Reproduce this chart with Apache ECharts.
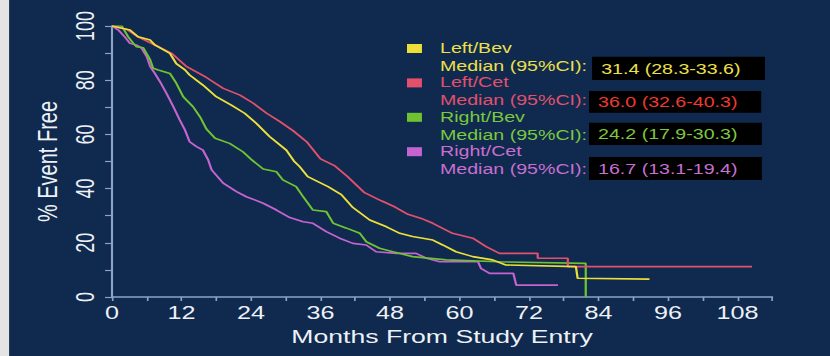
<!DOCTYPE html>
<html>
<head>
<meta charset="utf-8">
<script src="https://cdn.jsdelivr.net/npm/echarts@6/dist/echarts.min.js"></script>
<style>
  html, body { margin: 0; padding: 0; overflow: hidden; background: #0f2a4e; }
  /* the source slide is stretched sideways, so the chart is drawn narrow and widened */
  #chart { width: 592.86px; height: 356px; transform-origin: 0 0; transform: scaleX(1.4); }
</style>
</head>
<body>
<div id="chart"></div>
<script>
// Kaplan-Meier curves, [months, % event free]
var leftBev = [[0,100],[2.5,98.8],[3.1,98.5],[4.5,96],[6.6,94.8],[7.4,93],[10,89.9],[11.1,86.1],[12.6,83.8],[13.4,81.9],[15.7,78.2],[18,73.9],[20.6,70.8],[22.9,67.8],[24.9,64.1],[27.2,59.2],[30.1,54.2],[31.4,50.2],[32.4,48.1],[33.8,44.4],[37.3,40.7],[39.6,37.8],[41.6,33],[44.5,28.4],[47.4,25.9],[49.7,23.5],[51.9,22.3],[55.4,21],[57.1,19.2],[59.4,16.7],[62.3,14.9],[65.7,13.7],[68,11.8],[80.1,11.2],[80.4,6.9],[92.8,6.6]];
var leftCet = [[0,100],[2.5,98.8],[4.5,96],[7.4,93],[10.3,89.9],[12.9,85],[16.3,81],[19.2,77],[22.1,74.5],[24.4,71.5],[26.7,67.8],[29,64.7],[31.3,61.3],[33.6,57.3],[36,51],[38.4,48.5],[40.7,44.4],[43.6,38.5],[46.5,35.5],[48.8,33.3],[51.1,30.5],[53.4,29],[55.4,27.2],[58.8,23.5],[62.3,21.7],[64.6,18.6],[66.9,16.1],[73.5,16.1],[73.5,14.3],[78.7,14.3],[78.7,11.2],[110.5,11.2]];
var rightBev = [[0,100],[1.7,100],[2.8,96],[3.7,93.6],[4.2,92.4],[5.4,92],[6.6,87.5],[7.1,84.4],[8,83.8],[10,82.5],[11.1,78.9],[12.3,73.9],[14,70.2],[15.2,66.5],[16.3,62],[17.8,58.6],[20.3,56.7],[22.6,53.6],[24.2,50.5],[26.1,47.2],[28.4,46.2],[29.5,43.2],[31.8,40.7],[33,37],[34.7,32.1],[37,31.5],[38.2,27.2],[40.5,25.4],[42.8,23.5],[43.9,20.4],[46.2,18],[48.5,16.7],[51.9,14.9],[57.7,13.7],[66.9,13],[81.8,12.4],[81.8,0]];
var rightCet = [[0,100],[1.1,98.5],[2.2,96],[3.1,93.6],[4.2,93],[5.1,91.8],[6,88.7],[6.6,85],[7.4,82.5],[8.3,79.4],[9.4,75.2],[10.6,70.2],[11.7,65.3],[12.6,61.6],[13.4,57.3],[14.6,55.5],[15.7,54.2],[16.6,50.6],[17.2,46.9],[19.2,42],[21.5,38.9],[23.2,37],[26.1,34.6],[28.4,32.1],[30.7,29.3],[33,27.8],[34.7,27.2],[37,24.1],[39.3,21.7],[41.6,19.8],[43.9,19.2],[45.6,16.7],[49.1,16.1],[52.5,16.1],[54.3,14.3],[56.6,13],[63.2,13],[63.7,10.6],[65.2,8.7],[69.3,8.7],[69.8,4.4],[77,4.4]];

var groupNames = ['Left/Bev', 'Left/Cet', 'Right/Bev', 'Right/Cet'];
var medians = ['31.4 (28.3-33.6)', '36.0 (32.6-40.3)', '24.2 (17.9-30.3)', '16.7 (13.1-19.4)'];
var xTickLabels = [0, 12, 24, 36, 48, 60, 72, 84, 96, 108];
var yTickLabels = [0, 20, 40, 60, 80, 100];

var lineColors = ['#ecdf3a', '#e2506c', '#6fc232', '#c563d0'];
var textColors = ['#eee04a', '#e2506c', '#7cc83e', '#c86fd0'];
var valueColors = ['#eee04a', '#ee3a30', '#7cc83e', '#c86fd0'];
var axisColor = '#8fa3c4';
var font = '"Liberation Sans", Arial, sans-serif';

var curves = [leftBev, leftCet, rightBev, rightCet];

// legend block on the right
var graphics = [
  { type: 'rect', shape: { x: 0, y: 0, width: 6.5, height: 356 }, style: { fill: '#e4e4e4' } }
];
var boxes = [[422.9, 56.7, 123.5, 23.3], [420.7, 91, 123, 21.7], [420.7, 122.7, 123.5, 22.3], [420.7, 157, 123.5, 23]];
groupNames.forEach(function (n, i) {
  var y0 = 48.5 + i * 34.4;
  graphics.push({ type: 'rect', shape: { x: 290.7, y: y0 - 4.5, width: 10.7, height: 9 },
    style: { fill: lineColors[i] } });
  graphics.push({ type: 'text', x: 314.3, y: y0, style: { text: n, fill: textColors[i],
    font: '14px ' + font, textVerticalAlign: 'middle' } });
  graphics.push({ type: 'text', x: 314.3, y: y0 + 18, style: { text: 'Median (95%CI):', fill: textColors[i],
    font: '14px ' + font, textVerticalAlign: 'middle' } });
  var b = boxes[i];
  graphics.push({ type: 'rect', shape: { x: b[0], y: b[1], width: b[2], height: b[3] },
    style: { fill: '#000000' } });
  graphics.push({ type: 'text', x: b[0] + 6.5, y: b[1] + b[3] / 2 + 1, style: { text: medians[i], fill: valueColors[i],
    font: '14px ' + font, textVerticalAlign: 'middle' } });
});

var myChart = echarts.init(document.getElementById('chart'), null, { renderer: 'svg' });
var option = {
  backgroundColor: '#0f2a4e',
  animation: false,
  grid: { left: 80, right: 41.4, top: 26, bottom: 59 },
  xAxis: {
    type: 'value', min: 0, max: 114, interval: 6,
    name: 'Months From Study Entry', nameLocation: 'middle', nameGap: 28,
    nameTextStyle: { color: '#eef1f6', fontSize: 19, fontFamily: font },
    axisLine: { show: true, lineStyle: { color: axisColor, width: 1.5 } },
    axisTick: { show: true, length: 4, lineStyle: { color: axisColor, width: 1.2 } },
    axisLabel: { customValues: xTickLabels, color: '#eef1f6', fontSize: 18, fontFamily: font, margin: 7 },
    splitLine: { show: false }
  },
  yAxis: {
    type: 'value', min: 0, max: 100, interval: 10,
    name: '% Event Free', nameLocation: 'middle', nameGap: 36, nameRotate: 90,
    nameTextStyle: { color: '#eef1f6', fontSize: 20, fontFamily: font },
    axisLine: { show: true, lineStyle: { color: axisColor, width: 1.5 } },
    axisTick: { show: true, length: 5, lineStyle: { color: axisColor, width: 1.2 } },
    axisLabel: { customValues: yTickLabels, rotate: 90, color: '#eef1f6', fontSize: 18, fontFamily: font, margin: 10 },
    splitLine: { show: false }
  },
  series: curves.map(function (d, i) {
    return {
      name: groupNames[i], type: 'line', data: d, showSymbol: false, symbol: 'none',
      lineStyle: { color: lineColors[i], width: 1.6 }, z: 2 + (3 - i)
    };
  }),
  graphic: graphics
};
myChart.setOption(option);
</script>
</body>
</html>
